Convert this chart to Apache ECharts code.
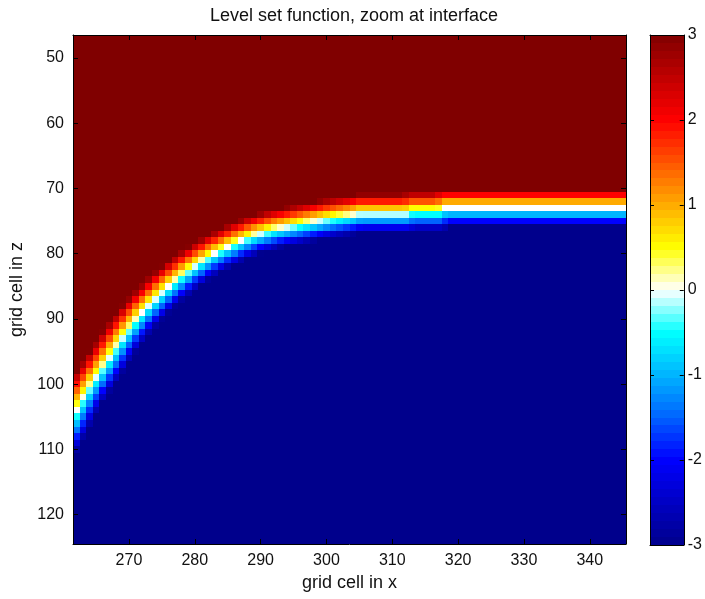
<!DOCTYPE html>
<html>
<head>
<meta charset="utf-8">
<script src="https://cdn.jsdelivr.net/npm/echarts@6/dist/echarts.min.js"></script>
<style>
html, body { margin: 0; padding: 0; background: #fff; }
#chart { width: 705px; height: 599px; }
</style>
</head>
<body>
<div id="chart"></div>
<script>
// cells shown in the zoom
const xStart = 262
const xEnd = 345
const zStart = 47
const zEnd = 124

// z of the zero level (interface) in each x column 262..345
const interfaceZ = [
    104.0, 102.1, 100.4, 98.9, 97.4, 95.9, 94.3, 92.8, 91.5, 90.2,
    89.0, 87.9, 86.9, 85.9, 85.0, 84.2, 83.4, 82.6, 81.9, 81.2,
    80.6, 80.0, 79.5, 79.0, 78.5, 78.0, 77.6, 77.2, 76.9, 76.6,
    76.3, 76.1, 75.9, 75.7, 75.5, 75.3, 75.1, 74.9, 74.7, 74.55,
    74.4, 74.25, 74.1,
    73.85, 73.85, 73.85, 73.85, 73.85, 73.85, 73.85, 73.85,
    73.5, 73.5, 73.5, 73.5, 73.5,
    73.0, 73.0, 73.0, 73.0, 73.0, 73.0, 73.0, 73.0, 73.0, 73.0,
    73.0, 73.0, 73.0, 73.0, 73.0, 73.0, 73.0, 73.0, 73.0, 73.0,
    73.0, 73.0, 73.0, 73.0, 73.0, 73.0, 73.0, 73.0
]

const xTicks = [270, 280, 290, 300, 310, 320, 330, 340]
const zTicks = [50, 60, 70, 80, 90, 100, 110, 120]
const phiMin = -3
const phiMax = 3
const barSteps = 64

const mapColors = ['#00008c', '#0000c4', '#0000ff', '#0062ff', '#00b4ff', '#00ffff', '#ffffff',
    '#ffff00', '#ffaa00', '#ff5500', '#ff0000', '#c00000', '#800000']

const font = 'Liberation Sans, Arial, sans-serif'

// level set value of each cell: signed distance (in cells) to the interface, clipped
function buildCells() {
    let pts = interfaceZ.map((z, i) => [xStart + i, z])
    let n = pts.length
    // carry the curve on past both edges
    pts.unshift([pts[0][0] - 10 * (pts[1][0] - pts[0][0]), pts[0][1] - 10 * (pts[1][1] - pts[0][1])])
    pts.push([pts[n][0] + 10 * (pts[n][0] - pts[n - 1][0]), pts[n][1] + 10 * (pts[n][1] - pts[n - 1][1])])

    function segDist(px, pz, a, b) {
        let dx = b[0] - a[0], dz = b[1] - a[1]
        let t = ((px - a[0]) * dx + (pz - a[1]) * dz) / (dx * dx + dz * dz)
        t = Math.max(0, Math.min(1, t))
        let ex = a[0] + t * dx - px, ez = a[1] + t * dz - pz
        return Math.sqrt(ex * ex + ez * ez)
    }

    let cells = []
    for (let x = xStart; x <= xEnd; x++) {
        for (let z = zStart; z <= zEnd; z++) {
            let d = Infinity
            for (let k = 0; k < pts.length - 1; k++) {
                d = Math.min(d, segDist(x, z, pts[k], pts[k + 1]))
            }
            let sign = z <= interfaceZ[x - xStart] ? 1 : -1
            cells.push([x, z, Math.max(phiMin, Math.min(phiMax, sign * d))])
        }
    }
    return cells
}

function buildBar() {
    let steps = []
    for (let i = 0; i < barSteps; i++) {
        let lo = phiMin + i * (phiMax - phiMin) / barSteps
        let hi = phiMin + (i + 1) * (phiMax - phiMin) / barSteps
        steps.push([lo, hi, (lo + hi) / 2])
    }
    return steps
}

// snap to whole pixels so neighbouring cells meet without seams
function snapRect(a, b) {
    let x0 = Math.round(Math.min(a[0], b[0])), x1 = Math.round(Math.max(a[0], b[0]))
    let y0 = Math.round(Math.min(a[1], b[1])), y1 = Math.round(Math.max(a[1], b[1]))
    return { x: x0, y: y0, width: x1 - x0, height: y1 - y0 }
}

function cellRect(params, api) {
    let a = api.coord([api.value(0) - 0.5, api.value(1) - 0.5])
    let b = api.coord([api.value(0) + 0.5, api.value(1) + 0.5])
    return { type: 'rect', shape: snapRect(a, b), style: { fill: api.visual('color') } }
}

function barRect(params, api) {
    let a = api.coord([0, api.value(0)])
    let b = api.coord([1, api.value(1)])
    return { type: 'rect', shape: snapRect(a, b), style: { fill: api.visual('color') } }
}

let chart = echarts.init(document.getElementById('chart'))

let frameLine = { show: true, onZero: false, lineStyle: { color: '#000', width: 1 } }
let labelStyle = { color: '#111', fontSize: 16, fontFamily: font }
let nameStyle = { color: '#111', fontSize: 18, fontFamily: font }

let chartOpt = {
    animation: false,
    backgroundColor: '#fff',
    title: {
        text: 'Level set function, zoom at interface',
        left: 349,
        top: 2,
        textAlign: 'center',
        textStyle: { color: '#111', fontWeight: 'normal', fontSize: 18, fontFamily: font }
    },
    grid: [
        { left: 73, top: 35, width: 553, height: 509 },
        { left: 650, top: 35, width: 34, height: 510 }
    ],
    visualMap: {
        type: 'continuous',
        show: false,
        min: phiMin,
        max: phiMax,
        dimension: 2,
        seriesIndex: [0, 1],
        inRange: { color: mapColors }
    },
    xAxis: [{
        gridIndex: 0,
        type: 'value',
        position: 'bottom',
        min: xStart - 0.5,
        max: xEnd + 0.5,
        z: 10,
        axisLine: frameLine,
        axisTick: { inside: true, length: 5, customValues: xTicks, lineStyle: { color: '#000' } },
        axisLabel: Object.assign({ margin: 9, customValues: xTicks }, labelStyle),
        splitLine: { show: false },
        name: 'grid cell in x',
        nameLocation: 'middle',
        nameGap: 23,
        nameTextStyle: nameStyle
    }, {
        gridIndex: 0,
        type: 'value',
        position: 'top',
        min: xStart - 0.5,
        max: xEnd + 0.5,
        z: 10,
        axisLine: frameLine,
        axisTick: { inside: true, length: 5, customValues: xTicks, lineStyle: { color: '#000' } },
        axisLabel: { show: false },
        splitLine: { show: false }
    }, {
        gridIndex: 1,
        type: 'value',
        position: 'bottom',
        min: 0,
        max: 1,
        z: 10,
        axisLine: frameLine,
        axisTick: { show: false },
        axisLabel: { show: false },
        splitLine: { show: false }
    }, {
        gridIndex: 1,
        type: 'value',
        position: 'top',
        min: 0,
        max: 1,
        z: 10,
        axisLine: frameLine,
        axisTick: { show: false },
        axisLabel: { show: false },
        splitLine: { show: false }
    }],
    yAxis: [{
        gridIndex: 0,
        type: 'value',
        position: 'left',
        inverse: true,
        min: zStart - 0.5,
        max: zEnd + 0.5,
        z: 10,
        axisLine: frameLine,
        axisTick: { inside: true, length: 5, customValues: zTicks, lineStyle: { color: '#000' } },
        axisLabel: Object.assign({ margin: 9, customValues: zTicks }, labelStyle),
        splitLine: { show: false },
        name: 'grid cell in z',
        nameLocation: 'middle',
        nameGap: 45,
        nameTextStyle: nameStyle
    }, {
        gridIndex: 0,
        type: 'value',
        position: 'right',
        inverse: true,
        min: zStart - 0.5,
        max: zEnd + 0.5,
        z: 10,
        axisLine: frameLine,
        axisTick: { inside: true, length: 5, customValues: zTicks, lineStyle: { color: '#000' } },
        axisLabel: { show: false },
        splitLine: { show: false }
    }, {
        gridIndex: 1,
        type: 'value',
        position: 'right',
        min: phiMin,
        max: phiMax,
        interval: 1,
        z: 10,
        axisLine: frameLine,
        axisTick: { inside: true, length: 4, lineStyle: { color: '#000' } },
        axisLabel: Object.assign({ margin: 4 }, labelStyle),
        splitLine: { show: false }
    }, {
        gridIndex: 1,
        type: 'value',
        position: 'left',
        min: phiMin,
        max: phiMax,
        interval: 1,
        z: 10,
        axisLine: frameLine,
        axisTick: { inside: true, length: 4, lineStyle: { color: '#000' } },
        axisLabel: { show: false },
        splitLine: { show: false }
    }],
    series: [{
        type: 'custom',
        xAxisIndex: 0,
        yAxisIndex: 0,
        renderItem: cellRect,
        data: buildCells()
    }, {
        type: 'custom',
        xAxisIndex: 2,
        yAxisIndex: 2,
        renderItem: barRect,
        data: buildBar()
    }]
}

chart.setOption(chartOpt)
</script>
</body>
</html>
